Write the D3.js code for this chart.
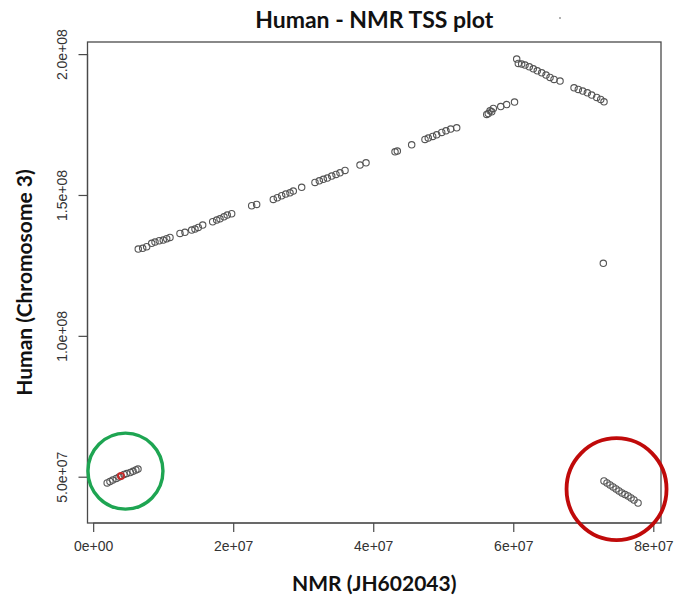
<!DOCTYPE html>
<html>
<head>
<meta charset="utf-8">
<script src="https://cdn.jsdelivr.net/npm/d3@7"></script>
<style>
  html, body { margin: 0; padding: 0; background: #fff; }
  svg { display: block; }
</style>
</head>
<body>
<div id="chart"></div>
<script>
// ---- Data (values in base pairs; given in Mb and scaled) ----
const nmrPos = [
  // green cluster
  2.0, 2.4, 2.8, 3.3, 3.7, 4.4, 4.8, 5.3, 5.7, 6.1, 6.4,
  // main diagonal
  6.44, 7.07, 7.64, 8.36, 8.83, 9.44, 10.01, 10.50, 10.97, 12.40, 13.11, 14.07, 14.54, 15.01, 15.64,
  17.07, 17.64, 18.11, 18.68, 19.15, 19.78, 22.64, 23.35, 25.73, 26.30, 26.92, 27.50, 28.11, 28.58,
  29.78, 31.68, 32.30, 32.87, 33.44, 34.07, 34.68, 35.25, 35.97, 38.11, 38.97, 43.11, 43.44, 45.49,
  47.39, 47.86, 48.49, 49.06, 49.78, 50.39, 51.06, 51.92, 56.21, 56.43, 56.68, 56.92, 57.15, 58.21,
  59.06, 60.18,
  // top inverted segment
  60.49, 60.72, 61.20, 61.68, 62.29, 62.86, 63.43, 64.06, 64.68, 65.25, 65.82, 66.68,
  68.68, 69.29, 69.92, 70.58, 71.20, 71.92, 72.49, 72.96,
  // outlier
  72.86,
  // red cluster
  72.96, 73.39, 73.82, 74.25, 74.68, 75.10, 75.53, 75.96, 76.39, 76.82, 77.24, 77.82
];
const humanPos = [
  47.8, 48.3, 48.8, 49.4, 49.9, 50.8, 51.1, 51.5, 51.9, 52.4, 52.7,
  130.80, 131.05, 131.62, 132.83, 133.29, 133.75, 134.00, 134.46, 134.95, 136.37, 136.73, 137.54, 137.90, 138.50, 139.32,
  140.49, 141.09, 141.55, 142.26, 142.87, 143.33, 146.17, 146.66, 148.44, 149.01, 149.72, 150.32, 150.78, 151.38,
  152.70, 154.47, 155.04, 155.54, 156.00, 156.71, 157.31, 157.88, 158.73, 160.61, 161.43, 165.33, 165.58, 167.81,
  169.73, 170.19, 170.79, 171.36, 172.21, 172.78, 173.39, 173.85, 178.60, 178.88, 179.88, 179.52, 180.73, 181.37,
  182.08, 182.97,
  198.23, 196.70, 196.45, 196.10, 195.49, 194.78, 194.07, 193.36, 192.55, 191.73, 191.02, 190.42,
  188.04, 187.47, 186.87, 186.27, 185.45, 184.64, 183.93, 183.07,
  125.73,
  48.47, 47.76, 47.05, 46.34, 45.64, 44.93, 44.22, 43.68, 43.15, 42.44, 41.73, 40.67
];
// highlighted point (red, inside green circle)
const highlightNmr = [3.97];
const highlightHuman = [50.25];

const xTicks = [0, 2e7, 4e7, 6e7, 8e7];
const xTickLabels = ["0e+00", "2e+07", "4e+07", "6e+07", "8e+07"];
const yTicks = [5e7, 1e8, 1.5e8, 2e8];
const yTickLabels = ["5.0e+07", "1.0e+08", "1.5e+08", "2.0e+08"];

// annotation ellipses (centre in data units, Mb)
const annoX = [4.61, 74.75];
const annoY = [52.0, 45.6];
const annoColor = ["#1ea552", "#c00a0a"];

const MB = 1e6;

// ---- Layout ----
const W = 677, H = 596;
const box = { left: 87.5, right: 661, top: 42, bottom: 523 };

const svg = d3.select("#chart").append("svg")
  .attr("width", W).attr("height", H);

const x = d3.scaleLinear().domain([-0.81e6, 8.11e7]).range([box.left, box.right]);
const y = d3.scaleLinear().domain([3.357e7, 2.043e8]).range([box.bottom, box.top]);

const axisColor = "#4a4a4a";

// Axes via d3
const xAxis = d3.axisBottom(x).tickValues(xTicks)
  .tickFormat((d, i) => xTickLabels[i]).tickSize(9).tickSizeOuter(0).tickPadding(9);
const gx = svg.append("g").attr("transform", `translate(0,${box.bottom})`).call(xAxis);
gx.select(".domain").attr("d", `M${x(xTicks[0])},0H${x(xTicks[xTicks.length-1])}`);
gx.selectAll("line, path").attr("stroke", axisColor).attr("stroke-width", 1.2);
gx.selectAll("text").attr("font-family", "'Liberation Sans', Arial, sans-serif")
  .attr("font-size", 14).attr("fill", "#333");

const yAxis = d3.axisLeft(y).tickValues(yTicks)
  .tickFormat((d, i) => yTickLabels[i]).tickSize(9).tickSizeOuter(0).tickPadding(6);
const gy = svg.append("g").attr("transform", `translate(${box.left},0)`).call(yAxis);
gy.select(".domain").attr("d", `M0,${y(yTicks[0])}V${y(yTicks[yTicks.length-1])}`);
gy.selectAll("line, path").attr("stroke", axisColor).attr("stroke-width", 1.2);
gy.selectAll(".tick text")
  .attr("font-family", "'Liberation Sans', Arial, sans-serif")
  .attr("font-size", 14).attr("fill", "#333")
  .attr("text-anchor", "middle")
  .attr("x", 0).attr("dy", 0)
  .attr("transform", "translate(-21,0) rotate(-90)");

// Box
svg.append("rect")
  .attr("x", box.left).attr("y", box.top)
  .attr("width", box.right - box.left).attr("height", box.bottom - box.top)
  .attr("fill", "none").attr("stroke", axisColor).attr("stroke-width", 1.3);

// Points
const pts = nmrPos.map((v, i) => ({ x: v * MB, y: humanPos[i] * MB }));
svg.append("g").selectAll("circle").data(pts).join("circle")
  .attr("cx", d => x(d.x)).attr("cy", d => y(d.y)).attr("r", 3.2)
  .attr("fill", "none").attr("stroke", "#555").attr("stroke-width", 1.1);

// Highlighted point
svg.append("g").selectAll("circle").data(highlightNmr.map((v, i) => ({ x: v * MB, y: highlightHuman[i] * MB })))
  .join("circle")
  .attr("cx", d => x(d.x)).attr("cy", d => y(d.y)).attr("r", 3)
  .attr("fill", "none").attr("stroke", "#c42a2a").attr("stroke-width", 2);

// Annotation ellipses
const annoR = [[37.5, 38], [50, 51]];
const annoW = [3.4, 3.8];
svg.append("g").selectAll("ellipse").data(annoX.map((v, i) => i)).join("ellipse")
  .attr("cx", i => x(annoX[i] * MB)).attr("cy", i => y(annoY[i] * MB))
  .attr("rx", i => annoR[i][0]).attr("ry", i => annoR[i][1])
  .attr("fill", "none").attr("stroke", i => annoColor[i]).attr("stroke-width", i => annoW[i]);

// Small stray dot above the plot
svg.append("circle").attr("cx", 560).attr("cy", 18).attr("r", 1).attr("fill", "#999");

// Titles
const cx = (box.left + box.right) / 2;
svg.append("text").attr("x", cx).attr("y", 28)
  .attr("text-anchor", "middle").attr("font-family", "Lato, sans-serif")
  .attr("font-weight", "bold").attr("font-size", 23).attr("fill", "#111")
  .text("Human - NMR TSS plot");

svg.append("text").attr("x", cx).attr("y", 591)
  .attr("text-anchor", "middle").attr("font-family", "Lato, sans-serif")
  .attr("font-weight", "bold").attr("font-size", 21).attr("fill", "#111")
  .text("NMR (JH602043)");

svg.append("text")
  .attr("transform", `translate(32,${(box.top + box.bottom) / 2}) rotate(-90)`)
  .attr("text-anchor", "middle").attr("font-family", "Lato, sans-serif")
  .attr("font-weight", "bold").attr("font-size", 21).attr("fill", "#111")
  .text("Human (Chromosome 3)");
</script>
</body>
</html>
